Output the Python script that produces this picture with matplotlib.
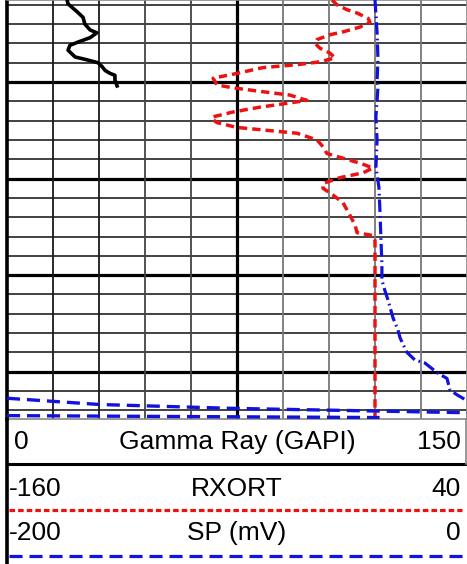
import matplotlib
matplotlib.use("Agg")
import matplotlib.pyplot as plt
from matplotlib.lines import Line2D
import numpy as np

plt.rcParams["font.family"] = ["Liberation Sans", "DejaVu Sans"]
plt.rcParams["lines.scale_dashes"] = False

# depth window (ft)
top_depth = 4991.5
bottom_depth = 5034.9

# Gamma Ray, 0-150 GAPI
gr_depth = [4991.5, 4991.9, 4992.7, 4993.3, 4994.0, 4994.6, 4994.9, 4995.4, 4995.9, 4996.2,
            4996.7, 4997.4, 4997.7, 4998.0, 4998.4, 4998.8, 4999.1, 4999.3, 4999.8, 5000.4]
gr_val = [19.6, 19.9, 22.8, 24.8, 25.4, 27.1, 29.3, 27.1, 22.8, 20.5,
          19.9, 22.2, 26.1, 29.7, 31.0, 32.0, 33.6, 35.2, 35.2, 35.9]

# RXORT, -160..40
rx_depth = [4991.5, 4992.0, 4992.5, 4992.85, 4993.4, 4993.8, 4994.3, 4994.8, 4995.1, 4995.6,
            4996.0, 4996.5, 4997.0, 4997.5, 4997.9, 4998.2, 4998.5, 4999.1, 4999.6, 5000.3,
            5000.6, 5001.0, 5001.35, 5001.9, 5002.2, 5002.6, 5003.1, 5003.6, 5003.8, 5004.2,
            5004.7, 5005.0, 5005.3, 5006.0, 5006.7, 5007.4, 5007.8, 5008.4, 5008.9, 5009.4,
            5009.9, 5010.5, 5011.0, 5011.7, 5012.5, 5013.8, 5014.8, 5015.6, 5015.9, 5016.4,
            5034.9]
rx_val = [-18.7, -16.5, -12.2, -7.8, -3.0, -2.2, -6.5, -13.9, -19.6, -25.2,
          -26.1, -23.9, -19.6, -17.4, -23.9, -33.9, -48.7, -60.0, -70.4, -68.7,
          -61.7, -48.7, -37.0, -29.6, -38.3, -50.0, -61.7, -70.4, -70.9, -68.7,
          -60.0, -47.0, -33.9, -25.2, -22.6, -20.9, -15.2, -6.5, -0.9, -5.2,
          -15.2, -22.6, -22.6, -18.3, -13.9, -10.9, -8.7, -7.8, -0.9, 0.0,
          0.0]

# SP, -200..0 mV
sp_depth = [4991.5, 4994.9, 4997.7, 4999.8, 5000.5, 5003.6, 5006.0, 5008.8, 5010.9, 5013.6,
            5016.4, 5018.8, 5020.5, 5021.6, 5022.6, 5024.4, 5025.7, 5026.5, 5028.0, 5028.8,
            5029.1, 5030.1, 5030.7, 5031.9, 5032.4, 5033.0]
sp_val = [-40.0, -39.1, -38.7, -39.1, -38.7, -39.6, -39.1, -39.6, -38.3, -37.8,
          -37.4, -37.0, -37.0, -35.7, -34.3, -32.2, -30.0, -29.1, -26.1, -22.6,
          -18.3, -13.0, -8.7, -7.4, -4.3, 0.0]
# wrapped SP at the base of the track
sp_wrap1_depth = [5032.75, 5033.4, 5033.8, 5034.25]
sp_wrap1_val = [-200.0, -159.6, -101.7, 0.0]
sp_wrap2_depth = [5034.55, 5034.75]
sp_wrap2_val = [-200.0, -38.0]

RED = "#ee1111"
BLUE = "#1212dd"

fig = plt.figure(figsize=(4.67, 5.64), dpi=100)
ax = fig.add_axes([7 / 467, 145 / 564, 460 / 467, 419 / 564])
ax.set_xlim(0, 150)
ax.set_ylim(bottom_depth, top_depth)
ax.set_xticks([])
ax.set_yticks([])

# grid
for d in range(4992, 5035, 2):
    if d % 10 == 0:
        ax.axhline(d, color="black", lw=2.3, zorder=1)
    else:
        ax.axhline(d, color="#2a2a2a", lw=1.25, zorder=1)
for g in range(15, 150, 15):
    if g == 75:
        ax.axvline(g, color="black", lw=2.3, zorder=1)
    elif g < 45:
        ax.axvline(g, color="#1a1a1a", lw=1.3, zorder=1)
    elif g < 75:
        ax.axvline(g, color="#444444", lw=1.3, zorder=1)
    else:
        ax.axvline(g, color="#777777", lw=1.3, zorder=1)

for s in ["top", "right", "bottom"]:
    ax.spines[s].set_color("#888888")
    ax.spines[s].set_linewidth(1.2)
ax.spines["left"].set_linewidth(2.6)
ax.spines["left"].set_color("black")

ax.plot(gr_val, gr_depth, color="black", lw=2.6, zorder=4)

ax_rx = ax.twiny()
ax_rx.set_xlim(-160, 40)
ax_rx.set_ylim(bottom_depth, top_depth)
ax_rx.axis("off")
ax_rx.plot(rx_val, rx_depth, color=RED, lw=2.5, dashes=(6.0, 3.6), zorder=4)

ax_sp = ax.twiny()
ax_sp.set_xlim(-200, 0)
ax_sp.set_ylim(bottom_depth, top_depth)
ax_sp.axis("off")
ax_sp.plot(sp_val, sp_depth, color=BLUE, lw=2.3, dashes=(9.0, 2.9, 1.2, 2.9), zorder=4)
ax_sp.plot(sp_wrap1_val, sp_wrap1_depth, color=BLUE, lw=2.4, dashes=(9.4, 5.0), zorder=4)
ax_sp.plot(sp_wrap2_val, sp_wrap2_depth, color=BLUE, lw=2.4, dashes=(9.4, 5.0), zorder=4)


def fx(px):
    return px / 467


def fy(py):
    return 1 - py / 564


# header frame
fig.add_artist(Line2D([fx(7), fx(7)], [fy(419), fy(564)], color="black", lw=2.6))
fig.add_artist(Line2D([fx(7), fx(467)], [fy(464), fy(464)], color="black", lw=2.2))
fig.add_artist(Line2D([fx(466), fx(466)], [fy(419), fy(464)], color="#888888", lw=1.2))

fs = 19
rows = [("0", "Gamma Ray (GAPI)", "150", 442, 14),
        ("-160", "RXORT", "40", 489, 9),
        ("-200", "SP (mV)", "0", 533, 9)]
for lo, name, hi, ypix, xl in rows:
    fig.text(fx(xl), fy(ypix), lo, fontsize=fs, ha="left", va="center")
    fig.text(fx(237), fy(ypix), name, fontsize=fs, ha="center", va="center")
    fig.text(fx(461), fy(ypix), hi, fontsize=fs, ha="right", va="center")

fig.add_artist(Line2D([fx(9), fx(462)], [fy(510), fy(510)], color=RED, lw=2.3, dashes=(4.0, 2.2)))
fig.add_artist(Line2D([fx(9), fx(464)], [fy(556), fy(556)], color=BLUE, lw=2.3, dashes=(9.4, 5.0)))

fig.savefig("out.png", dpi=100)
